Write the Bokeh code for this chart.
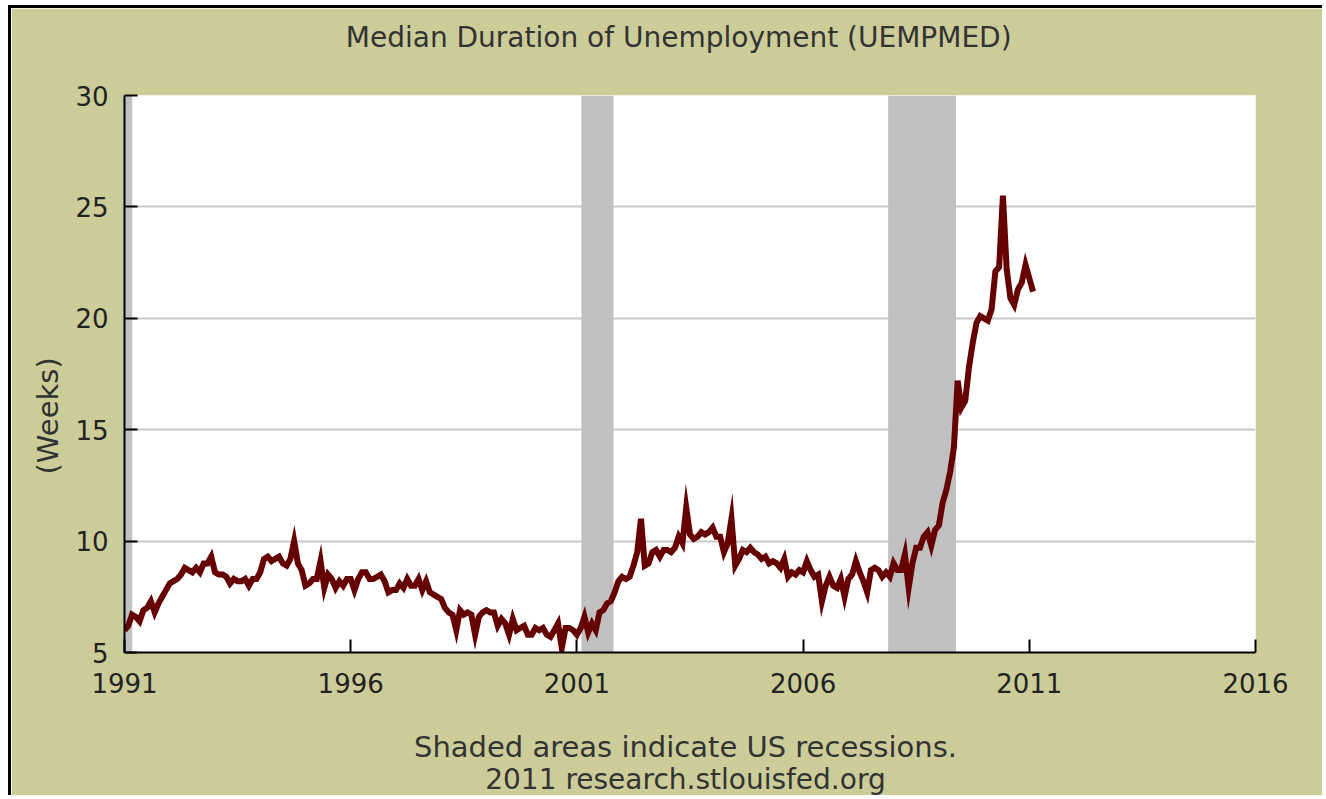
import math
import pandas as pd
from bokeh.plotting import figure
from bokeh.models import FixedTicker, Range1d, ColumnDataSource, LinearAxis
from bokeh.embed import file_html
from bokeh.resources import INLINE

# Monthly median duration of unemployment (weeks), Jan 1991 - Feb 2011
values = [
    6.0, 6.2, 6.7, 6.6, 6.4, 6.9, 7.0, 7.3, 6.8, 7.2, 7.5, 7.8,   # 1991
    8.1, 8.2, 8.3, 8.5, 8.8, 8.7, 8.6, 8.8, 8.6, 9.0, 9.0, 9.3,   # 1992
    8.6, 8.5, 8.5, 8.4, 8.1, 8.3, 8.2, 8.2, 8.3, 8.0, 8.3, 8.3,   # 1993
    8.6, 9.2, 9.3, 9.1, 9.2, 9.3, 9.0, 8.9, 9.2, 10.0, 9.0, 8.7,  # 1994
    8.0, 8.1, 8.3, 8.3, 9.1, 7.9, 8.5, 8.3, 7.9, 8.2, 8.0, 8.3,   # 1995
    8.3, 7.8, 8.3, 8.6, 8.6, 8.3, 8.3, 8.4, 8.5, 8.2, 7.7, 7.8,   # 1996
    7.8, 8.1, 7.9, 8.3, 8.0, 8.0, 8.3, 7.8, 8.2, 7.7, 7.6, 7.5,   # 1997
    7.4, 7.0, 6.8, 6.7, 6.0, 6.9, 6.7, 6.8, 6.7, 5.8, 6.6, 6.8,   # 1998
    6.9, 6.8, 6.8, 6.2, 6.5, 6.3, 5.8, 6.5, 6.0, 6.1, 6.2, 5.8,   # 1999
    5.8, 6.1, 6.0, 6.1, 5.8, 5.7, 6.0, 6.3, 5.2, 6.1, 6.1, 6.0,   # 2000
    5.8, 6.1, 6.6, 5.9, 6.3, 6.0, 6.8, 6.9, 7.2, 7.3, 7.7, 8.2,   # 2001
    8.4, 8.3, 8.4, 8.9, 9.5, 11.0, 8.9, 9.0, 9.5, 9.6, 9.3, 9.6,  # 2002
    9.6, 9.5, 9.7, 10.2, 9.9, 11.5, 10.3, 10.1, 10.2, 10.4, 10.3, 10.4,  # 2003
    10.6, 10.2, 10.2, 9.5, 9.9, 11.0, 8.9, 9.2, 9.6, 9.5, 9.7, 9.5,     # 2004
    9.4, 9.2, 9.3, 9.0, 9.1, 9.0, 8.8, 9.2, 8.4, 8.6, 8.5, 8.7,   # 2005
    8.6, 9.1, 8.7, 8.4, 8.5, 7.3, 8.0, 8.4, 8.0, 7.9, 8.3, 7.5,   # 2006
    8.3, 8.5, 9.1, 8.6, 8.2, 7.7, 8.7, 8.8, 8.7, 8.4, 8.6, 8.4,   # 2007
    9.0, 8.7, 8.7, 9.4, 7.9, 9.0, 9.7, 9.7, 10.2, 10.4, 9.8, 10.5,  # 2008
    10.7, 11.7, 12.3, 13.1, 14.2, 17.2, 16.0, 16.3, 17.8, 18.9, 19.8, 20.1,  # 2009
    20.0, 19.9, 20.4, 22.1, 22.3, 25.5, 22.2, 20.9, 20.6, 21.3, 21.6, 22.4,  # 2010
    21.8, 21.2,                                                   # 2011
]
dates = pd.date_range("1991-01-01", periods=len(values), freq="MS")
years = list(dates.year + (dates.month - 1) / 12.0)

# US recessions (decimal years)
rec_start = [1990.5, 2001.1, 2007.88]
rec_end = [1991.17, 2001.81, 2009.38]

x_ticks = [1991, 1996, 2001, 2006, 2011, 2016]
y_ticks = [5, 10, 15, 20, 25, 30]

title_text = "Median Duration of Unemployment (UEMPMED)"
footer1 = "Shaded areas indicate US recessions."
footer2 = "2011 research.stlouisfed.org"
y_label = "(Weeks)"

# anchor positions of the surrounding texts (layout only)
TITLE_AT = 2003.25
FOOT1_AT = 2003.4
FOOT2_AT = 2003.4
YLAB_AT = 18.25

BG = "#CCCC99"
FONT = "DejaVu Sans"

p = figure(width=1314, height=790,
           x_range=Range1d(1991, 2016), y_range=Range1d(5, 30),
           output_backend="svg", toolbar_location=None,
           min_border_left=111, min_border_right=70,
           min_border_top=87, min_border_bottom=145,
           background_fill_color="white", border_fill_color=BG,
           outline_line_color=None)

src_rec = ColumnDataSource(dict(left=rec_start, right=rec_end,
                                bottom=[5] * len(rec_start), top=[30] * len(rec_start)))
p.quad(left="left", right="right", bottom="bottom", top="top", source=src_rec,
       fill_color="#C0C0C0", line_color=None)

src = ColumnDataSource(dict(x=years, y=values))
p.line("x", "y", source=src, line_color="#660000", line_width=6, line_join="miter")

# axes
p.xaxis.ticker = FixedTicker(ticks=x_ticks)
p.yaxis.ticker = FixedTicker(ticks=y_ticks)
for ax in (p.xaxis, p.yaxis):
    ax.axis_line_color = "black"
    ax.axis_line_width = 2
    ax.major_tick_line_color = "black"
    ax.major_tick_line_width = 2
    ax.major_tick_in = 13
    ax.major_tick_out = 0
    ax.minor_tick_line_color = None
    ax.major_label_text_font = FONT
    ax.major_label_text_font_size = "26px"
    ax.major_label_text_color = "#222222"
p.xaxis.major_label_standoff = 20
p.yaxis.major_label_standoff = 16

p.xgrid.grid_line_color = None
p.ygrid.ticker = FixedTicker(ticks=[10, 15, 20, 25, 30])
p.ygrid.grid_line_color = "#C8C8C8"
p.ygrid.grid_line_width = 2


def text_axis(at, txt, side, standoff, size, orientation="horizontal"):
    ax = LinearAxis(ticker=FixedTicker(ticks=[at]),
                    major_label_overrides={at: txt},
                    axis_line_color=None, major_tick_line_color=None,
                    minor_tick_line_color=None,
                    major_tick_in=0, major_tick_out=0,
                    major_label_standoff=standoff,
                    major_label_orientation=orientation,
                    major_label_text_font=FONT,
                    major_label_text_font_size=size,
                    major_label_text_color="#333333")
    p.add_layout(ax, side)


text_axis(TITLE_AT, title_text, "above", 42, "28px")
text_axis(FOOT1_AT, footer1, "below", 34, "29px")
text_axis(FOOT2_AT, footer2, "below", -4, "28px")
text_axis(YLAB_AT, y_label, "left", 24, "29px", orientation=math.pi / 2)

p.styles = {"margin-left": "8px", "margin-top": "5px",
            "border-left": "3px solid black", "border-top": "3px solid black"}

open("out.html", "w").write(file_html(p, INLINE))
